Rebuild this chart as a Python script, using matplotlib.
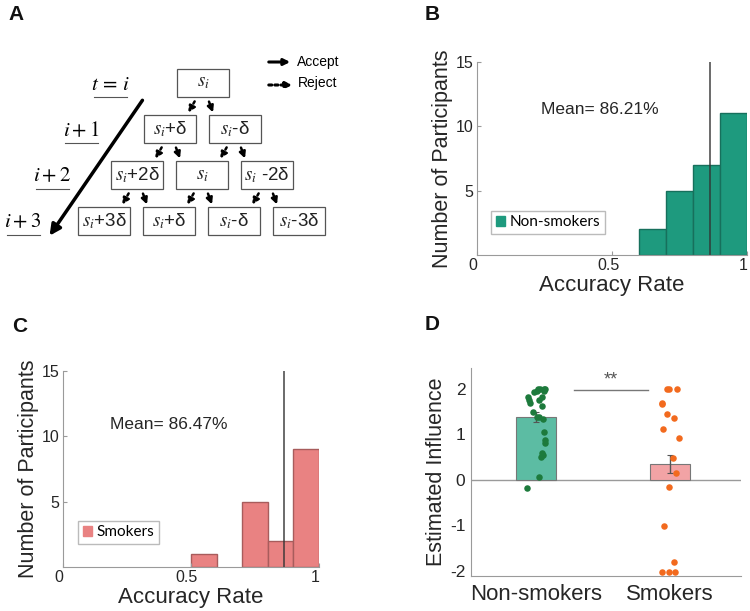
import matplotlib
matplotlib.use("Agg")
import matplotlib.pyplot as plt
import matplotlib.transforms as mtransforms
from matplotlib.patches import Rectangle, Patch

plt.rcParams['font.family'] = ['Liberation Sans', 'DejaVu Sans']
plt.rcParams['mathtext.fontset'] = 'stix'
plt.rcParams['axes.unicode_minus'] = False

# ---- panel A: tree of step sizes ----
tree_rows = [
    ["$s_i$"],
    ["$s_i$+δ", "$s_i$-δ"],
    ["$s_i$+2δ", "$s_i$", "$s_i$ -2δ"],
    ["$s_i$+3δ", "$s_i$+δ", "$s_i$-δ", "$s_i$-3δ"],
]
step_labels = ["$t\\,=\\,i$", "$i+1$", "$i+2$", "$i+3$"]
legend_a = ["Accept", "Reject"]

# ---- panels B / C: accuracy histograms ----
bin_width = 0.1
nonsmoker_edges = [0.6, 0.7, 0.8, 0.9]
nonsmoker_counts = [2, 5, 7, 11]
smoker_edges = [0.5, 0.6, 0.7, 0.8, 0.9]
smoker_counts = [1, 0, 5, 2, 9]
nonsmoker_mean_acc = 0.8621
smoker_mean_acc = 0.8647

# ---- panel D: estimated influence ----
groups = ["Non-smokers", "Smokers"]
bar_means = [1.39, 0.35]
bar_sems = [0.11, 0.19]
nonsmoker_vals = [2.0, 2.0, 1.96, 1.93, 1.83, 1.83, 1.76, 1.76, 1.69, 1.63,
                  1.50, 1.39, 1.38, 1.33, 1.06, 0.88, 0.82, 0.60, 0.55, 0.51,
                  0.06, -0.17, 2.0, 2.0, 1.96]
nonsmoker_jitter = [0.03, 0.06, 0.005, -0.015, -0.062, 0.047, -0.054, 0.02,
                    -0.045, 0.043, -0.025, 0.005, 0.025, 0.054, 0.062, 0.067,
                    0.065, 0.045, 0.054, 0.04, 0.02, -0.065, 0.015, 0.067, 0.06]
smoker_vals = [1.99, 1.99, 1.99, 1.69, 1.67, 1.44, 1.37, 1.13, 0.93, 0.48,
               0.16, -0.15, -1.01, -1.81, -2.02, -2.02, -2.02]
smoker_jitter = [-0.025, -0.01, 0.05, -0.062, -0.058, -0.025, 0.03, -0.055,
                 0.067, 0.025, 0.043, -0.007, -0.045, 0.032, -0.062, -0.005,
                 0.037]

GREEN = "#1e9a7e"
GREEN_EDGE = "#17705c"
RED = "#e98282"
RED_EDGE = "#a85c5c"
SPINE = "#9a9a9a"
TXT = "#262626"

fig = plt.figure(figsize=(7.5, 6.11), dpi=100)

# panel letters
for letter, (x, y) in zip("ABCD", [(16, 15), (432, 15), (20, 326), (432, 325)]):
    fig.text(x / 750, 1 - y / 611, letter, fontsize=15, fontweight='bold',
             ha='center', va='center', color='#111111')

# ---------------- A ----------------
ax_a = fig.add_axes([0, 311 / 611, 380 / 750, 300 / 611])
ax_a.set_xlim(0, 380)
ax_a.set_ylim(300, 0)
ax_a.axis('off')

box_w, box_h = 52, 28
for r, row in enumerate(tree_rows):
    cy = 83 + 46 * r
    for k, lab in enumerate(row):
        cx = 203 - 33 * r + 65 * k
        ax_a.add_patch(Rectangle((cx - box_w / 2, cy - box_h / 2), box_w, box_h,
                                 fill=False, ec='#555555', lw=0.9))
        ax_a.text(cx, cy, lab, ha='center', va='center', fontsize=13.5,
                  color='#222222')
        if r < len(tree_rows) - 1:
            ax_a.annotate("", xy=(cx - 16, cy + 32), xytext=(cx - 7, cy + 16),
                          arrowprops=dict(arrowstyle='-|>', ls=(0, (1, 1)),
                                          lw=1.8, color='black', mutation_scale=9))
            ax_a.annotate("", xy=(cx + 11, cy + 32), xytext=(cx + 5, cy + 16),
                          arrowprops=dict(arrowstyle='-|>', lw=1.8,
                                          color='black', mutation_scale=9))

for r, lab in enumerate(step_labels):
    lx, ly = 110 - 29 * r, 84 + 46 * r
    ax_a.text(lx, ly, lab, ha='center', va='center', fontsize=15)
    ax_a.plot([lx - 16, lx + 17], [ly + 13, ly + 13], color='#555555', lw=0.8)

ax_a.annotate("", xy=(48, 238), xytext=(144, 98),
              arrowprops=dict(arrowstyle='-|>', lw=2.5, color='black',
                              mutation_scale=16))

ax_a.annotate("", xy=(293, 62), xytext=(266, 62),
              arrowprops=dict(arrowstyle='-|>', lw=2.2, color='black',
                              mutation_scale=9))
ax_a.annotate("", xy=(295, 85), xytext=(266, 85),
              arrowprops=dict(arrowstyle='-|>', lw=2.2, ls=(0, (1, 1)),
                              color='black', mutation_scale=9))
ax_a.text(297, 62, legend_a[0], va='center', fontsize=10)
ax_a.text(298, 83, legend_a[1], va='center', fontsize=10)


def hist_panel(ax, edges, counts, mean_acc, color, edge, label, mean_xy, leg_xy):
    keep = [(e, c) for e, c in zip(edges, counts) if c > 0]
    ax.bar([e for e, c in keep], [c for e, c in keep], width=bin_width,
           align='edge', color=color, edgecolor=edge, lw=1.0)
    ax.plot([mean_acc, mean_acc], [0, 15], color='#333333', lw=1.2, alpha=0.85)
    ax.set_xlim(0, 1)
    ax.set_ylim(0, 15)
    ax.set_xticks([0, 0.5, 1])
    ax.set_xticklabels(["0", "0.5", "1"])
    ax.set_yticks([5, 10, 15])
    for s in ['top', 'right']:
        ax.spines[s].set_visible(False)
    for s in ['left', 'bottom']:
        ax.spines[s].set_color(SPINE)
    ax.tick_params(direction='in', length=3, color=SPINE, labelsize=11.5,
                   labelcolor=TXT, pad=2.5)
    # matlab-style labels sit a few pixels left of their ticks
    shift = mtransforms.ScaledTranslation(-4 / 100, 0, fig.dpi_scale_trans)
    for t in ax.get_xticklabels():
        t.set_transform(t.get_transform() + shift)
    ax.set_xlabel("Accuracy Rate", fontsize=16, color=TXT, labelpad=1)
    ax.set_ylabel("Number of Participants", fontsize=15.5, color=TXT,
                  labelpad=2)
    ax.text(mean_xy[0], mean_xy[1], "Mean= %.2f%%" % (mean_acc * 100),
            ha='center', va='center', fontsize=12.5, color=TXT)
    ax.legend(handles=[Patch(color=color)], labels=[label], loc='lower left',
              bbox_to_anchor=leg_xy, fancybox=False, edgecolor='#aaaaaa',
              handlelength=0.6, handleheight=0.6, handletextpad=0.3,
              borderpad=0.3, prop={'family': 'Lato', 'size': 11})


# ---------------- B ----------------
ax_b = fig.add_axes([477 / 750, 1 - 255 / 611, 270 / 750, 193 / 611])
hist_panel(ax_b, nonsmoker_edges, nonsmoker_counts, nonsmoker_mean_acc,
           GREEN, GREEN_EDGE, "Non-smokers", (0.454, 11.27), (0.025, 0.07))

# ---------------- C ----------------
ax_c = fig.add_axes([63 / 750, 1 - 567 / 611, 256 / 750, 196 / 611])
hist_panel(ax_c, smoker_edges, smoker_counts, smoker_mean_acc,
           RED, RED_EDGE, "Smokers", (0.415, 10.87), (0.03, 0.08))

# ---------------- D ----------------
ax_d = fig.add_axes([471 / 750, 1 - 576 / 611, 270 / 750, 208 / 611])
xpos = [1, 2]
ax_d.bar(xpos, bar_means, width=0.3, color=["#5cbca3", "#f2a3a5"],
         edgecolor='#777777', lw=0.8, zorder=2)
ax_d.errorbar(xpos, bar_means, yerr=bar_sems, fmt='none', ecolor='#555555',
              elinewidth=1, capsize=2, capthick=0.8, zorder=3)
ax_d.axhline(0, color=SPINE, lw=1, zorder=1)
ax_d.scatter([xpos[0] + j for j in nonsmoker_jitter], nonsmoker_vals, s=22,
             color="#1d7a3c", zorder=4, lw=0)
ax_d.scatter([xpos[1] + j for j in smoker_jitter], smoker_vals, s=22,
             color="#f26a1e", zorder=4, lw=0)
ax_d.plot([1.284, 1.836], [1.98, 1.98], color='#777777', lw=1)
ax_d.text(1.56, 2.2, "**", ha='center', va='center', fontsize=13, color='#555555')
ax_d.set_xlim(0.515, 2.53)
ax_d.set_ylim(-2.11, 2.46)
ax_d.set_xticks(xpos)
ax_d.set_xticklabels(groups)
ax_d.set_yticks([-2, -1, 0, 1, 2])
for s in ['top', 'right']:
    ax_d.spines[s].set_visible(False)
for s in ['left', 'bottom']:
    ax_d.spines[s].set_color(SPINE)
ax_d.tick_params(axis='x', length=0, labelsize=16, labelcolor=TXT, pad=6)
ax_d.tick_params(axis='y', length=0, labelsize=12.5, labelcolor=TXT, pad=4)
ax_d.set_ylabel("Estimated Influence", fontsize=15.5, color=TXT, labelpad=2)

fig.savefig("out.png", dpi=100)
